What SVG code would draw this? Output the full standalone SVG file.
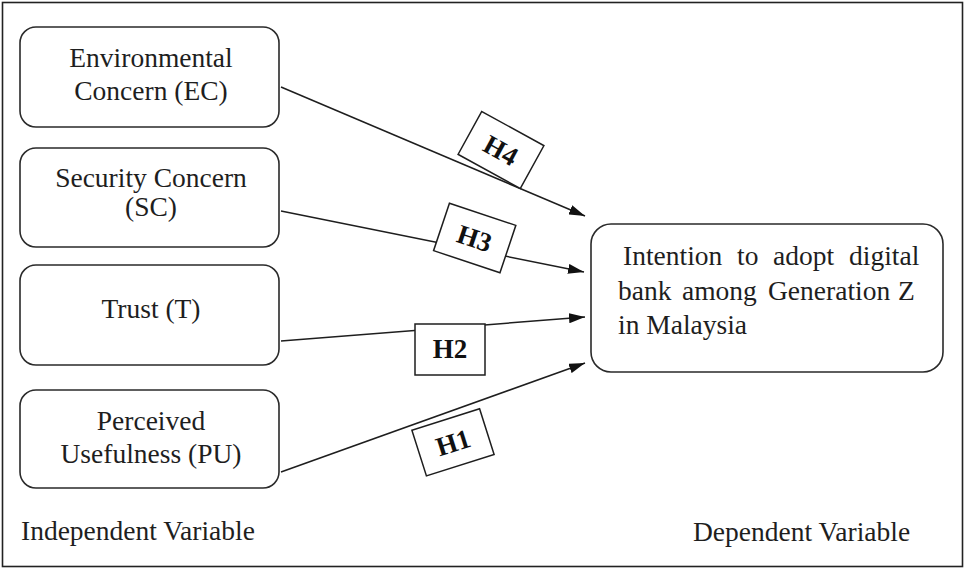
<svg xmlns="http://www.w3.org/2000/svg" width="967" height="569" viewBox="0 0 967 569">
  <style>
    .frame { fill: #ffffff; stroke: #222222; stroke-width: 1.6; }
    .node { fill: #ffffff; stroke: #2a2a2a; stroke-width: 1.6; }
    .txt { font-family: "Liberation Serif", Tinos, "DejaVu Serif", serif; font-size: 27.5px; font-weight: normal; fill: #1e1e1e; }
    .mid { text-anchor: middle; }
    .edge { stroke: #1e1e1e; stroke-width: 1.5; fill: none; marker-end: url(#arrow); }
    .tag { fill: #ffffff; stroke: #1e1e1e; stroke-width: 1.5; }
    .tagtxt { font-family: "Liberation Serif", Tinos, "DejaVu Serif", serif; font-size: 27px; font-weight: bold; fill: #111111; text-anchor: middle; }
  </style>
  <defs>
    <marker id="arrow" viewBox="0 0 16 10" refX="16" refY="5" markerWidth="16" markerHeight="10" markerUnits="userSpaceOnUse" orient="auto">
      <path d="M0,0 L16,5 L0,10 Z" fill="#111111"/>
    </marker>
  </defs>

  <rect class="frame" x="2.5" y="2.5" width="960" height="564"/>

  <!-- arrows from each independent variable to the outcome -->
  <g id="connectors">
    <line class="edge" x1="281" y1="87" x2="585" y2="216"/>
    <line class="edge" x1="281" y1="211" x2="584" y2="272"/>
    <line class="edge" x1="281" y1="341" x2="585" y2="317"/>
    <line class="edge" x1="281" y1="472" x2="585" y2="363"/>

    <!-- hypothesis labels on the arrows -->
    <g id="h4" transform="translate(501,150) rotate(28.8)">
      <rect class="tag" x="-35.5" y="-24.5" width="71" height="49"/>
      <text class="tagtxt" x="0" y="9.5">H4</text>
    </g>
    <g id="h3" transform="translate(474.7,238) rotate(18.5)">
      <rect class="tag" x="-35" y="-25" width="70" height="50"/>
      <text class="tagtxt" x="0" y="9.5">H3</text>
    </g>
    <g id="h2">
      <rect class="tag" x="415" y="324" width="70" height="51"/>
      <text class="tagtxt" x="450" y="358">H2</text>
    </g>
    <g id="h1" transform="translate(453,442.3) rotate(-17.6)">
      <rect class="tag" x="-35.5" y="-24" width="71" height="48"/>
      <text class="tagtxt" x="0" y="9.5">H1</text>
    </g>
  </g>

  <g id="ec">
    <rect class="node" x="20" y="27" width="259" height="100" rx="16"/>
    <text class="txt mid" x="151" y="67">Environmental</text>
    <text class="txt mid" x="151" y="100">Concern (EC)</text>
  </g>

  <g id="sc">
    <rect class="node" x="20" y="148" width="259" height="99" rx="16"/>
    <text class="txt mid" x="151" y="187">Security Concern</text>
    <text class="txt mid" x="151" y="216">(SC)</text>
  </g>

  <g id="t">
    <rect class="node" x="20" y="265" width="259" height="100" rx="16"/>
    <text class="txt mid" x="151" y="318">Trust (T)</text>
  </g>

  <g id="pu">
    <rect class="node" x="20" y="390" width="259" height="98" rx="16"/>
    <text class="txt mid" x="151" y="430">Perceived</text>
    <text class="txt mid" x="151" y="463">Usefulness (PU)</text>
  </g>

  <!-- justified paragraph: words placed one by one -->
  <g id="intention">
    <rect class="node" x="591" y="224" width="352" height="148" rx="20"/>
    <text class="txt" y="265"><tspan x="623">Intention</tspan><tspan x="737">to</tspan><tspan x="773">adopt</tspan><tspan x="849">digital</tspan></text>
    <text class="txt" y="300"><tspan x="618">bank</tspan><tspan x="682">among</tspan><tspan x="768">Generation</tspan><tspan x="898">Z</tspan></text>
    <text class="txt" x="618" y="334">in Malaysia</text>
  </g>

  <text class="txt" x="21" y="540">Independent Variable</text>
  <text class="txt" x="693" y="541">Dependent Variable</text>
</svg>
